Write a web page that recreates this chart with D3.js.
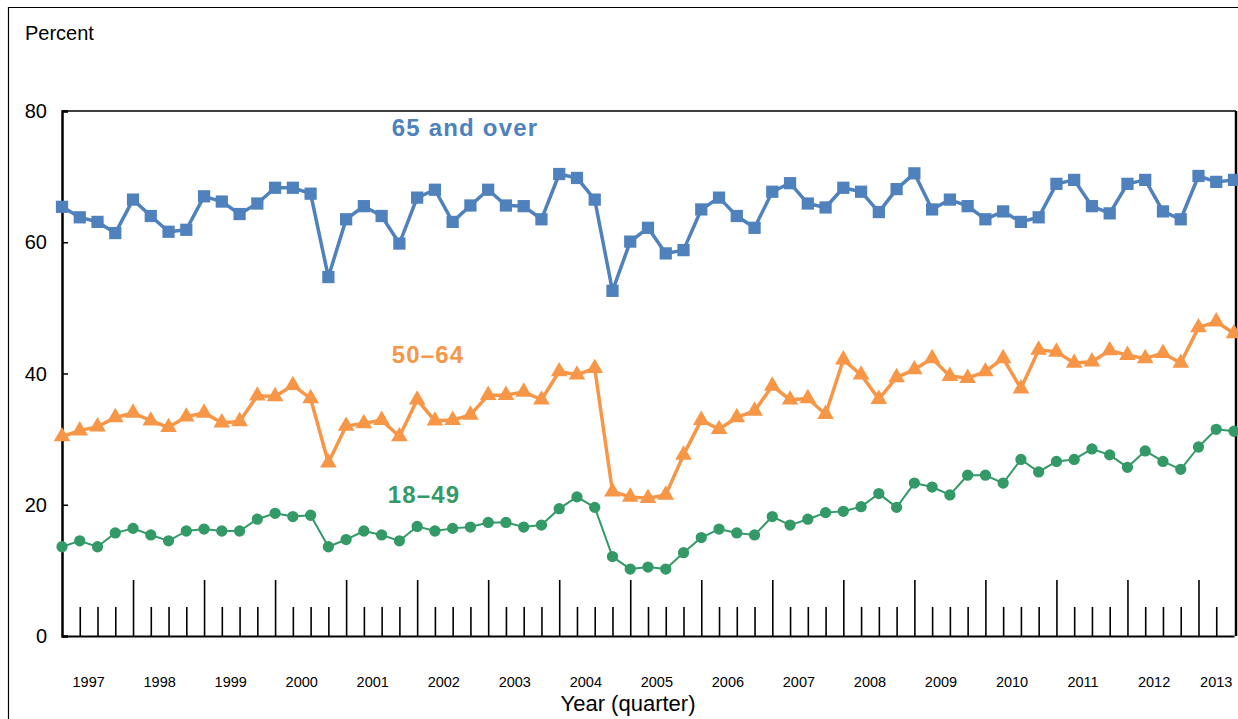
<!DOCTYPE html>
<html>
<head>
<meta charset="utf-8">
<script src="https://cdn.jsdelivr.net/npm/d3@7"></script>
<style>
  body { margin: 0; background: #fff; }
  text { font-family: "Liberation Sans", Arial, sans-serif; }
</style>
</head>
<body>
<svg id="chart"></svg>
<script>
const width = 1238;
const height = 719;

// quarters from 1997 Q1 to 2013 Q3
const years = d3.range(1997, 2014);
const nQuarters = 67;

const over65 = [65.4, 63.8, 63.1, 61.4, 66.5, 64.0, 61.6, 61.9, 67.0, 66.2, 64.3, 65.9,
  68.3, 68.3, 67.4, 54.7, 63.5, 65.5, 64.0, 59.8, 66.8, 68.0, 63.1, 65.6,
  68.0, 65.6, 65.5, 63.5, 70.4, 69.8, 66.5, 52.6, 60.1, 62.2, 58.3, 58.8,
  65.0, 66.8, 64.0, 62.2, 67.7, 69.0, 65.9, 65.3, 68.3, 67.7, 64.6, 68.1,
  70.5, 65.0, 66.5, 65.5, 63.5, 64.7, 63.1, 63.8, 68.9, 69.5, 65.5, 64.4,
  68.9, 69.5, 64.7, 63.5, 70.1, 69.2, 69.5];

const age50to64 = [30.4, 31.3, 31.9, 33.3, 34.0, 32.8, 31.8, 33.4, 34.0, 32.5, 32.7, 36.6,
  36.5, 38.2, 36.2, 26.4, 32.0, 32.4, 32.9, 30.4, 36.0, 32.8, 32.9, 33.7,
  36.7, 36.7, 37.2, 36.0, 40.3, 39.8, 40.8, 22.0, 21.2, 21.0, 21.5, 27.6,
  32.9, 31.5, 33.3, 34.3, 38.1, 36.0, 36.2, 33.8, 42.1, 39.8, 36.1, 39.4,
  40.6, 42.3, 39.6, 39.3, 40.3, 42.3, 37.7, 43.6, 43.3, 41.6, 41.8, 43.5,
  42.8, 42.3, 43.1, 41.6, 47.0, 47.9, 46.1];

const age18to49 = [13.6, 14.5, 13.6, 15.7, 16.4, 15.4, 14.5, 16.0, 16.3, 16.0, 16.0, 17.8,
  18.7, 18.2, 18.4, 13.6, 14.7, 16.0, 15.4, 14.5, 16.7, 16.0, 16.4, 16.6,
  17.3, 17.3, 16.6, 16.9, 19.4, 21.2, 19.6, 12.1, 10.2, 10.5, 10.2, 12.7,
  15.0, 16.3, 15.7, 15.4, 18.2, 16.9, 17.8, 18.8, 19.0, 19.7, 21.7, 19.6,
  23.3, 22.7, 21.5, 24.5, 24.5, 23.3, 26.9, 25.0, 26.6, 26.9, 28.5, 27.6,
  25.7, 28.2, 26.6, 25.4, 28.8, 31.5, 31.2];

const yTicks = [0, 20, 40, 60, 80];

const series = [
  { name: "65 and over", values: over65, color: "#4f81bd", lineWidth: 3.5, marker: "square", lx: 465, ly: 136 },
  { name: "50\u201364", values: age50to64, color: "#f79646", lineWidth: 3.5, marker: "triangle", lx: 428, ly: 363 },
  { name: "18\u201349", values: age18to49, color: "#339966", lineWidth: 2, marker: "circle", lx: 424, ly: 503 }
];

const plot = { left: 62, right: 1234, top: 111, bottom: 636 };

const svg = d3.select("#chart")
    .attr("width", width)
    .attr("height", height);

const x = d3.scaleLinear().domain([0, nQuarters - 1]).range([plot.left, plot.right]);
const y = d3.scaleLinear().domain([0, 80]).range([plot.bottom, plot.top]);

// outer frame
svg.append("path")
    .attr("d", `M8.5,${height + 2} V7.5 H${width + 2}`)
    .attr("fill", "none")
    .attr("stroke", "#000")
    .attr("stroke-width", 1.2);

// plot box (top + right)
svg.append("line")
    .attr("x1", plot.left).attr("x2", 1236)
    .attr("y1", plot.top).attr("y2", plot.top)
    .attr("stroke", "#000").attr("stroke-width", 1.5);
svg.append("line")
    .attr("x1", 1236).attr("x2", 1236)
    .attr("y1", plot.top).attr("y2", plot.bottom)
    .attr("stroke", "#000").attr("stroke-width", 2.5);

// y axis
const yAxis = svg.append("g")
    .attr("transform", `translate(${plot.left},0)`)
    .call(d3.axisRight(y).tickValues(yTicks).tickSize(6).tickFormat(""));
yAxis.select(".domain").attr("stroke-width", 2.5);
yAxis.selectAll(".tick line").attr("stroke-width", 1.5);

svg.selectAll(".ylab")
    .data(yTicks)
    .enter()
    .append("text")
    .attr("class", "ylab")
    .attr("x", 47)
    .attr("y", d => y(d))
    .attr("dy", "0.35em")
    .attr("text-anchor", "end")
    .style("font-size", "20px")
    .text(d => d);

svg.append("text")
    .attr("x", 25)
    .attr("y", 40)
    .style("font-size", "20px")
    .text("Percent");

// x axis: one tick per quarter, tall at each year start
const xAxis = svg.append("g")
    .attr("transform", `translate(0,${plot.bottom})`)
    .call(d3.axisTop(x).tickValues(d3.range(1, nQuarters - 1)).tickSize(0).tickFormat(""));
xAxis.select(".domain").attr("stroke-width", 2);
xAxis.selectAll(".tick line")
    .attr("y2", d => d % 4 === 0 ? -56 : -29)
    .attr("stroke-width", 1.6);

svg.selectAll(".year")
    .data(years)
    .enter()
    .append("text")
    .attr("class", "year")
    .attr("x", (d, i) => {
        const first = i * 4;
        const last = Math.min(first + 3, nQuarters - 1);
        return (x(first) + x(last)) / 2;
    })
    .attr("y", 687)
    .attr("text-anchor", "middle")
    .style("font-size", "14.5px")
    .text(d => d);

svg.append("text")
    .attr("x", 628)
    .attr("y", 711)
    .attr("text-anchor", "middle")
    .style("font-size", "22px")
    .text("Year (quarter)");

// lines and markers
const line = d3.line()
    .x((d, i) => x(i))
    .y(d => y(d));

const symbols = {
    square: d3.symbol().type(d3.symbolSquare).size(150),
    triangle: d3.symbol().type(d3.symbolTriangle).size(120),
    circle: d3.symbol().type(d3.symbolCircle).size(100)
};

series.forEach(s => {
    svg.append("path")
        .datum(s.values)
        .attr("fill", "none")
        .attr("stroke", s.color)
        .attr("stroke-width", s.lineWidth)
        .attr("stroke-linejoin", "round")
        .attr("d", line);

    svg.append("g")
        .selectAll("path")
        .data(s.values)
        .enter()
        .append("path")
        .attr("transform", (d, i) => `translate(${x(i)},${y(d)})`)
        .attr("d", symbols[s.marker])
        .attr("fill", s.color);

    svg.append("text")
        .attr("x", s.lx)
        .attr("y", s.ly)
        .attr("text-anchor", "middle")
        .attr("fill", s.color)
        .style("font-size", "24px")
        .style("font-weight", "bold")
        .style("letter-spacing", "1.2px")
        .text(s.name);
});
</script>
</body>
</html>
